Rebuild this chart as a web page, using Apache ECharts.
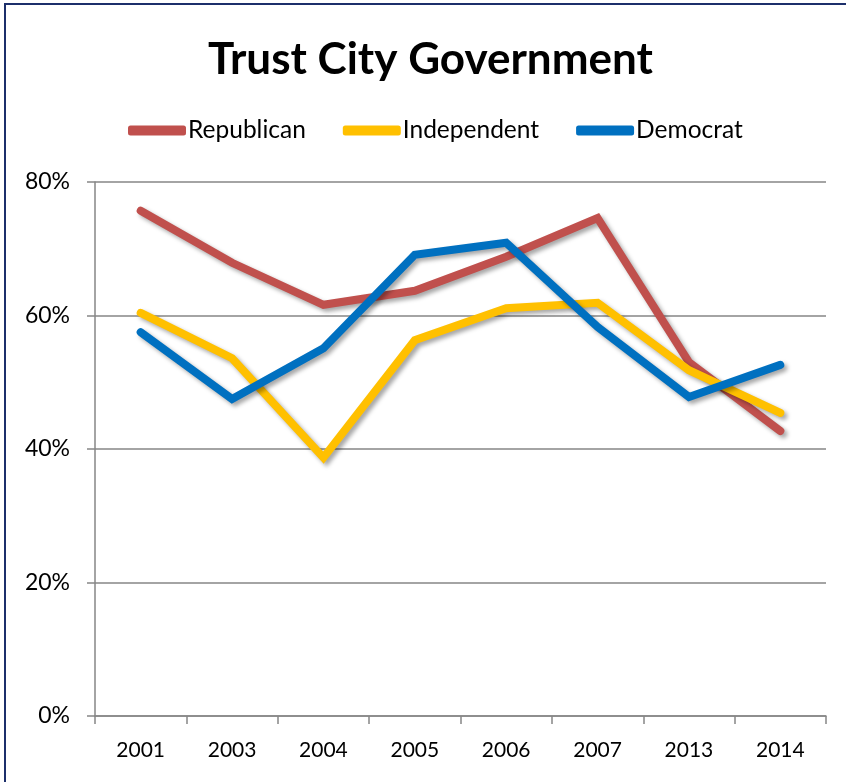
<!DOCTYPE html>
<html>
<head>
    <meta charset="utf-8">
    <title>Trust City Government</title>
    <script src="https://cdn.jsdelivr.net/npm/echarts@6/dist/echarts.min.js"></script>
    <style>
        body { margin: 0; background: #fff; }
        #frame { position: absolute; left: 4px; top: 3px; width: 900px; height: 900px;
                 border-left: 2px solid #1c2f6b; border-top: 2px solid #1c2f6b; }
        #main { position: absolute; left: 0; top: 0; width: 846px; height: 782px; }
    </style>
</head>
<body>
    <div id="frame"></div>
    <div id="main"></div>

    <script type="text/javascript">
        // data (percent)
        var years = ['2001', '2003', '2004', '2005', '2006', '2007', '2013', '2014'];
        var republican = [75.7, 67.9, 61.6, 63.7, 68.8, 74.6, 53.0, 42.7];
        var independent = [60.4, 53.6, 38.7, 56.3, 61.1, 61.9, 51.8, 45.4];
        var democrat = [57.5, 47.5, 55.1, 69.1, 70.9, 58.3, 47.8, 52.6];

        var myChart = echarts.init(document.getElementById('main'));

        function lineSeries(name, color, values) {
            return {
                name: name,
                type: 'line',
                data: values,
                symbol: 'none',
                color: color,
                lineStyle: {
                    width: 8,
                    color: color,
                    cap: 'round',
                    join: 'miter',
                    shadowColor: 'rgba(0,0,0,0.35)',
                    shadowBlur: 4,
                    shadowOffsetX: 3,
                    shadowOffsetY: 3
                }
            };
        }

        var option = {
            animation: false,
            textStyle: { fontFamily: 'Lato' },
            title: {
                text: 'Trust City Government',
                left: 203,
                top: 33,
                textStyle: { fontFamily: 'Lato', fontWeight: 'bold', fontSize: 44, color: '#000' }
            },
            legend: {
                top: 113,
                left: 123,
                icon: 'roundRect',
                itemWidth: 58,
                itemHeight: 10,
                itemGap: 37,
                textStyle: { fontFamily: 'Lato', fontSize: 24.5, color: '#000', padding: [0, 0, 0, -3] },
                data: ['Republican', 'Independent', 'Democrat']
            },
            grid: { left: 95, right: 20, top: 182, bottom: 66 },
            xAxis: {
                type: 'category',
                data: years,
                boundaryGap: true,
                axisLine: { lineStyle: { color: '#868686', width: 1.5 } },
                axisTick: { show: true, length: 8, lineStyle: { color: '#868686', width: 1.5 } },
                axisLabel: { color: '#000', fontSize: 21, margin: 24, fontFamily: 'Lato' }
            },
            yAxis: {
                type: 'value',
                min: 0,
                max: 80,
                interval: 20,
                axisLine: { show: true, lineStyle: { color: '#868686', width: 1.5 } },
                axisTick: { show: true, length: 8, lineStyle: { color: '#868686', width: 1.5 } },
                splitLine: { lineStyle: { color: '#868686', width: 1.5 } },
                axisLabel: { color: '#000', fontSize: 23, margin: 25, fontFamily: 'Lato', formatter: '{value}%' }
            },
            series: [
                lineSeries('Republican', '#c0504d', republican),
                lineSeries('Independent', '#ffc000', independent),
                lineSeries('Democrat', '#0070c0', democrat)
            ]
        };

        myChart.setOption(option);
    </script>
</body>
</html>
